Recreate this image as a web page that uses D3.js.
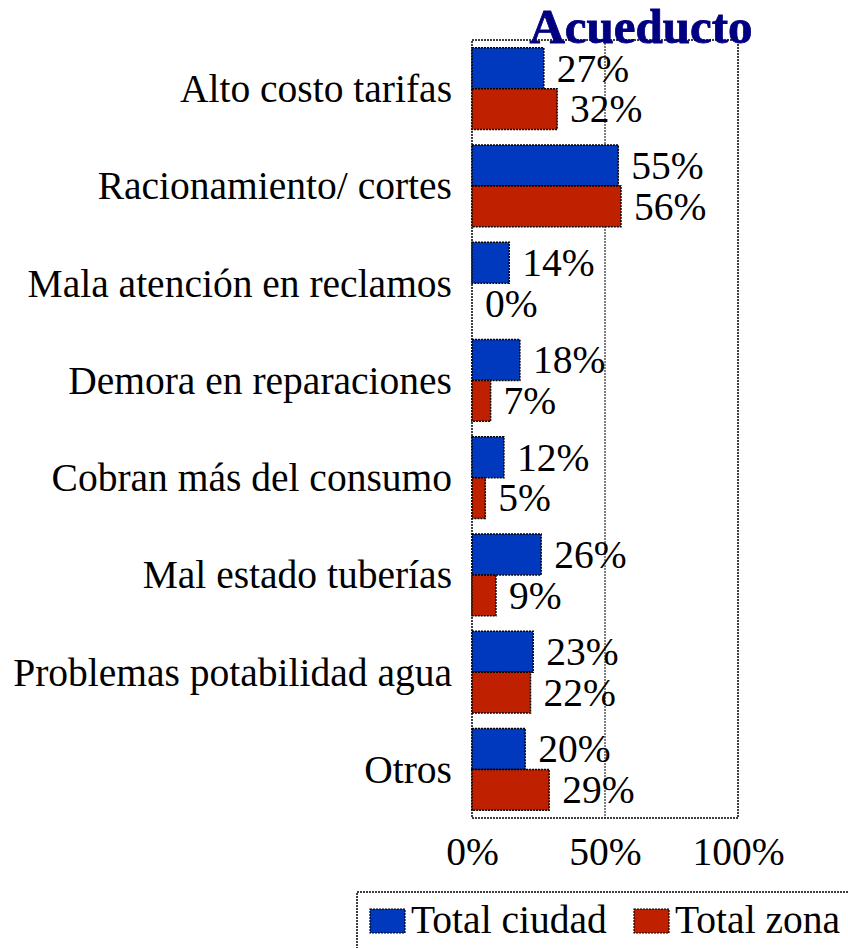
<!DOCTYPE html>
<html><head><meta charset="utf-8">
<script src="https://cdn.jsdelivr.net/npm/d3@7"></script>
<style>body{margin:0;background:#fff}svg{display:block}</style>
</head><body>
<svg id="c" width="848" height="948"></svg>
<script>
const categories = ["Alto costo tarifas","Racionamiento/ cortes","Mala atención en reclamos","Demora en reparaciones","Cobran más del consumo","Mal estado tuberías","Problemas potabilidad agua","Otros"];
const totalCiudad = [27,55,14,18,12,26,23,20];
const totalZona = [32,56,0,7,5,9,22,29];
const seriesNames = ["Total ciudad","Total zona"];
const tickValues = [0,50,100];
const title = "Acueducto";

const colors = ["#0039bd","#bf2100"];
const font = "'Liberation Serif','Times New Roman',serif";
const fs = 39.5;
const svg = d3.select("#c");
const L=472,R=738,T=40,B=818;
const x = d3.scaleLinear().domain([0,100]).range([L,R]);
const y = d3.scaleBand().domain(categories).range([T,B]).paddingInner(0.16).paddingOuter(0.08);
const ys = d3.scaleBand().domain(seriesNames).range([0,y.bandwidth()]);

// plot border
svg.append("rect").attr("x",L).attr("y",T).attr("width",R-L).attr("height",B-T)
  .attr("fill","none").attr("stroke","#000").attr("stroke-width",1.5).attr("stroke-dasharray","2,1");
// gridline 50
svg.append("line").attr("x1",x(50)).attr("x2",x(50)).attr("y1",T).attr("y2",B)
  .attr("stroke","#000").attr("stroke-width",1).attr("stroke-dasharray","2,1");

const data = [totalCiudad,totalZona];
data.forEach((vals,si)=>{
  const g = svg.append("g");
  categories.forEach((c,i)=>{
    const v = vals[i];
    const y0 = y(c)+ys(seriesNames[si]);
    if(v>0){
      g.append("rect").attr("x",x(0)).attr("y",y0).attr("width",x(v)-x(0)).attr("height",ys.bandwidth())
        .attr("fill",colors[si]).attr("stroke","#000").attr("stroke-width",1.5).attr("stroke-dasharray","2,1");
    }
    g.append("text").attr("x",x(v)+13).attr("y",y0+ys.bandwidth()/2).attr("dy","0.34em")
      .attr("font-family",font).attr("font-size",fs).text(v+"%");
  });
});

// category labels
const yAxis = d3.axisLeft(y).tickSize(0).tickPadding(20);
const ya = svg.append("g").attr("transform",`translate(${L},0)`).call(yAxis);
ya.select(".domain").remove();
ya.selectAll("text").attr("font-family",font).attr("font-size",fs).attr("fill","#000").attr("dy","0.34em");

// x axis
const xAxis = d3.axisBottom(x).tickValues(tickValues).tickSize(0).tickPadding(0).tickFormat(d=>d+"%");
const xa = svg.append("g").attr("transform",`translate(0,${B})`).call(xAxis);
xa.select(".domain").remove();
xa.selectAll("text").attr("font-family",font).attr("font-size",fs).attr("fill","#000").attr("y",47).attr("dy",0);

// title
svg.append("text").attr("x",641).attr("y",43).attr("text-anchor","middle")
  .attr("font-family",font).attr("font-weight","bold").attr("font-size",49).attr("fill","#000080")
  .attr("stroke","#000080").attr("stroke-width",0.8).text(title);

// legend
const lg = svg.append("g");
lg.append("rect").attr("x",357).attr("y",892).attr("width",500).attr("height",70)
  .attr("fill","#fff").attr("stroke","#000").attr("stroke-width",1.5).attr("stroke-dasharray","2,1");
const legX=[370,634];
seriesNames.forEach((n,i)=>{
  lg.append("rect").attr("x",legX[i]).attr("y",909).attr("width",35).attr("height",24)
    .attr("fill",colors[i]).attr("stroke","#000").attr("stroke-width",1.2).attr("stroke-dasharray","2,1");
  lg.append("text").attr("x",legX[i]+41).attr("y",933).attr("font-family",font).attr("font-size",fs).text(n);
});
</script>
</body></html>
